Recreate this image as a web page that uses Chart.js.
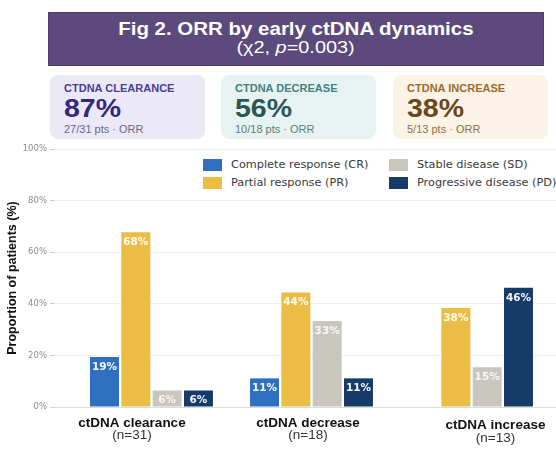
<!DOCTYPE html>
<html>
<head>
<meta charset="utf-8">
<script src="https://cdn.jsdelivr.net/npm/chart.js@4.4.1/dist/chart.umd.min.js"></script>
<style>
  html, body { margin: 0; padding: 0; background: #fff; }
  body { width: 556px; height: 455px; position: relative; overflow: hidden;
         font-family: "Liberation Sans", Arial, sans-serif; }

  /* title banner */
  #banner { position: absolute; left: 48px; top: 12px; width: 496px; height: 54px;
            box-sizing: border-box; background: #5b4a7b; border: 1px solid #4b3c69; color: #fff; }
  #banner div { position: absolute; left: 0; right: 0; text-align: center; line-height: 20px; white-space: nowrap; }
  #banner span { display: inline-block; transform: scaleX(1.17); }
  #t1 { top: 5.5px; font-size: 17.5px; font-weight: bold; }
  #t2 { top: 24.5px; font-size: 17px; }

  /* summary cards */
  .card { position: absolute; top: 75px; height: 64px; width: 155px; border-radius: 8px; }
  .card div { position: absolute; left: 14px; white-space: nowrap; transform-origin: left center; }
  .card .lab { top: 6.5px; line-height: 12px; font-size: 10.5px; font-weight: bold; transform: scaleX(1.05); }
  .card .big { top: 19px; line-height: 28px; font-size: 25px; font-weight: bold; transform: scaleX(1.14); }
  .card .sub { top: 47.5px; line-height: 12px; font-size: 11px; }

  /* legend */
  #legend { position: absolute; left: 0; top: 0; }
  .lg { position: absolute; height: 12px; white-space: nowrap;
        font-family: "DejaVu Sans", sans-serif; font-size: 11.3px; color: #3a3a3a; line-height: 12px; }
  .lg i { position: absolute; left: 0; top: 0; width: 19px; height: 12px; }
  .lg b { position: absolute; left: 28px; top: 0; font-weight: normal; }

  #wrap { position: absolute; left: 0; top: 140px; width: 556px; height: 315px; }
</style>
</head>
<body>

<div id="banner">
  <div id="t1"><span>Fig 2. ORR by early ctDNA dynamics</span></div>
  <div id="t2"><span>(χ2, <i>p</i>=0.003)</span></div>
</div>

<div id="cards"></div>
<div id="legend"></div>
<div id="wrap"><canvas id="chart"></canvas></div>

<script>
/* ---- data ---- */
const categories  = ['ctDNA clearance', 'ctDNA decrease', 'ctDNA increase'];
const groupSizes  = ['(n=31)', '(n=18)', '(n=13)'];
const orrValues   = ['87%', '56%', '38%'];
const orrCounts   = ['27/31 pts · ORR', '10/18 pts · ORR', '5/13 pts · ORR'];

const seriesNames = ['Complete response (CR)', 'Partial response (PR)',
                     'Stable disease (SD)', 'Progressive disease (PD)'];
const crValues = [19.4, 11.1, 0];
const prValues = [67.7, 44.4, 38.4];
const sdValues = [6.4, 33.3, 15.4];
const pdValues = [6.4, 11.1, 46.2];
const yTicks   = [0, 20, 40, 60, 80, 100];

/* ---- styles ---- */
const SERIES_COLORS = ['#2f6fc0', '#ecbd44', '#c9c6bd', '#173b69'];
const CARD_STYLES = [
  { left: 50,  bg: '#ebe8f8', lab: '#4b3f92', big: '#33287a', sub: '#6a6784' },
  { left: 221, bg: '#e7f2f2', lab: '#43837f', big: '#2b5753', sub: '#5f7c79' },
  { left: 393, bg: '#fbf3e6', lab: '#9b6c2c', big: '#68471b', sub: '#8a7152' }
];
const GRID_COLOR = '#f0f0f0';
const AXIS_COLOR = '#dcdcdc';

/* ---- cards ---- */
const cardsEl = document.getElementById('cards');
categories.forEach((c, i) => {
  const s = CARD_STYLES[i];
  const d = document.createElement('div');
  d.className = 'card';
  d.style.left = s.left + 'px';
  d.style.background = s.bg;
  d.innerHTML =
    `<div class="lab" style="color:${s.lab}">${c.toUpperCase()}</div>` +
    `<div class="big" style="color:${s.big}">${orrValues[i]}</div>` +
    `<div class="sub" style="color:${s.sub}">${orrCounts[i]}</div>`;
  cardsEl.appendChild(d);
});

/* ---- legend: two columns, filled top-down ---- */
const legendEl = document.getElementById('legend');
seriesNames.forEach((n, k) => {
  const col = Math.floor(k / 2), row = k % 2;
  const it = document.createElement('div');
  it.className = 'lg';
  it.style.left = (203 + col * 186) + 'px';
  it.style.top  = (159 + row * 18) + 'px';
  it.innerHTML = `<i style="background:${SERIES_COLORS[k]}"></i><b>${n}</b>`;
  legendEl.appendChild(it);
});

/* ---- value labels inside bar tops ---- */
const barLabels = {
  id: 'barLabels',
  afterDatasetsDraw(chart) {
    const ctx = chart.ctx;
    ctx.save();
    ctx.font = 'bold 10.5px "DejaVu Sans"';
    ctx.textAlign = 'center';
    ctx.textBaseline = 'middle';
    chart.data.datasets.forEach((ds, k) => {
      chart.getDatasetMeta(k).data.forEach((bar, i) => {
        const v = ds.data[i].y;
        if (!v) return;
        ctx.fillStyle = k === 2 ? 'rgba(255,255,255,0.85)' : 'rgba(255,255,255,0.95)';
        ctx.fillText(Math.round(v) + '%', bar.x, bar.y + 10);
      });
    });
    ctx.restore();
  }
};

/* ---- category labels under the groups ---- */
const catLabels = {
  id: 'catLabels',
  afterDraw(chart) {
    const ctx = chart.ctx, xs = chart.scales.x, bottom = chart.chartArea.bottom;
    const nudgeX = [-19.5, -3.5, 24];
    const nudgeY = [0, 0, 2.5];
    ctx.save();
    ctx.textAlign = 'center';
    ctx.textBaseline = 'alphabetic';
    categories.forEach((c, i) => {
      const x = xs.getPixelForValue(i) + nudgeX[i];
      ctx.fillStyle = '#111';
      ctx.font = 'bold 13.5px "Liberation Sans"';
      ctx.fillText(c, x, bottom + 19.5 + nudgeY[i]);
      ctx.fillStyle = '#333';
      ctx.font = '13.5px "Liberation Sans"';
      ctx.fillText(groupSizes[i], x, bottom + 32 + nudgeY[i]);
    });
    ctx.restore();
  }
};

const allSeries = [crValues, prValues, sdValues, pdValues];

new Chart(document.getElementById('chart'), {
  type: 'bar',
  data: {
    datasets: seriesNames.map((name, k) => ({
      label: name,
      data: allSeries[k].map((v, i) => ({ x: i, y: v })),
      backgroundColor: SERIES_COLORS[k],
      borderWidth: 0,
      categoryPercentage: 0.783,
      barPercentage: 0.925
    }))
  },
  options: {
    responsive: true,
    maintainAspectRatio: false,
    animation: false,
    events: [],
    layout: { padding: { top: 9, right: 0, bottom: 48, left: 0 } },
    plugins: { legend: { display: false }, tooltip: { enabled: false } },
    scales: {
      x: {
        type: 'linear', display: false, offset: false, min: -0.603, max: 2.528,
        // one tick per group so the bar width follows the group spacing
        afterBuildTicks: s => { s.ticks = categories.map((c, i) => ({ value: i })); }
      },
      y: {
        min: 0, max: 100,
        afterBuildTicks: s => { s.ticks = yTicks.map(v => ({ value: v })); },
        afterFit: s => { s.width = 55; },
        border: { display: false },
        grid: {
          color: c => c.tick && c.tick.value === 0 ? AXIS_COLOR : GRID_COLOR,
          tickColor: '#cfcfcf',
          tickLength: 5,
          drawTicks: true
        },
        ticks: {
          color: '#8c8c8c',
          padding: 3,
          font: { family: 'DejaVu Sans', size: 8.5 },
          callback: v => v + '%'
        },
        title: {
          display: true,
          text: 'Proportion of patients (%)',
          color: '#111',
          padding: { top: 5.5, bottom: 0 },
          font: { family: 'Liberation Sans', size: 12.5, weight: 'bold' }
        }
      }
    }
  },
  plugins: [barLabels, catLabels]
});
</script>
</body>
</html>
